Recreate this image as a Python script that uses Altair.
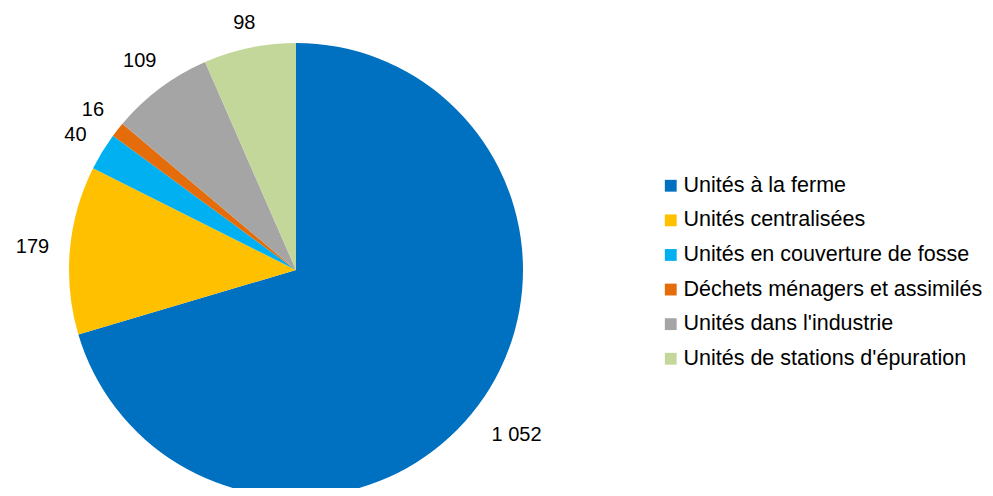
import altair as alt
import pandas as pd

categories = [
    "Unités à la ferme",
    "Unités centralisées",
    "Unités en couverture de fosse",
    "Déchets ménagers et assimilés",
    "Unités dans l'industrie",
    "Unités de stations d'épuration",
]
values = [1052, 179, 40, 16, 109, 98]
labels = ["1 052", "179", "40", "16", "109", "98"]
colors = ["#0070C0", "#FFC000", "#00B0F0", "#E46C0A", "#A5A5A5", "#C4D79B"]

df = pd.DataFrame({
    "cat": categories,
    "value": values,
    "label": labels,
    "idx": list(range(len(categories))),
})

cx, cy, R = 288, 262, 227

base = alt.Chart(df)

arcs = base.mark_arc(radius=R, stroke=None).encode(
    x=alt.value(cx),
    y=alt.value(cy),
    theta=alt.Theta("value:Q", stack=True),
    order=alt.Order("idx:Q"),
    color=alt.Color(
        "cat:N",
        scale=alt.Scale(domain=categories, range=colors),
        legend=alt.Legend(
            title=None,
            orient="none",
            legendX=652,
            legendY=167,
            symbolType="square",
            symbolSize=140,
            symbolStrokeWidth=0,
            labelFont="Liberation Sans",
            labelFontSize=21.5,
            labelColor="#000000",
            labelLimit=400,
            rowPadding=11.6,
            labelOffset=2,
        ),
    ),
)

text = base.transform_window(
    cum="sum(value)", sort=[alt.SortField("idx")], frame=[None, 0]
).transform_joinaggregate(
    total="sum(value)"
).transform_calculate(
    mid="2*PI*(datum.cum - datum.value/2)/datum.total"
).transform_calculate(
    r="243 + 7*length(datum.label)*abs(sin(datum.mid)) + 7*abs(cos(datum.mid))"
).transform_calculate(
    px=f"{cx} + datum.r*sin(datum.mid)",
    py=f"{cy} - datum.r*cos(datum.mid)",
).mark_text(
    font="Liberation Sans", fontSize=20, color="#000000", align="center", baseline="middle"
).encode(
    x=alt.X("px:Q", scale=None),
    y=alt.Y("py:Q", scale=None),
    text="label:N",
)

chart = alt.layer(arcs, text).properties(
    width=977,
    height=480,
    autosize=alt.AutoSizeParams(type="none"),
    padding=0,
).configure_view(stroke=None)

chart.save("out.html", embed_options={"renderer": "svg", "actions": False})
